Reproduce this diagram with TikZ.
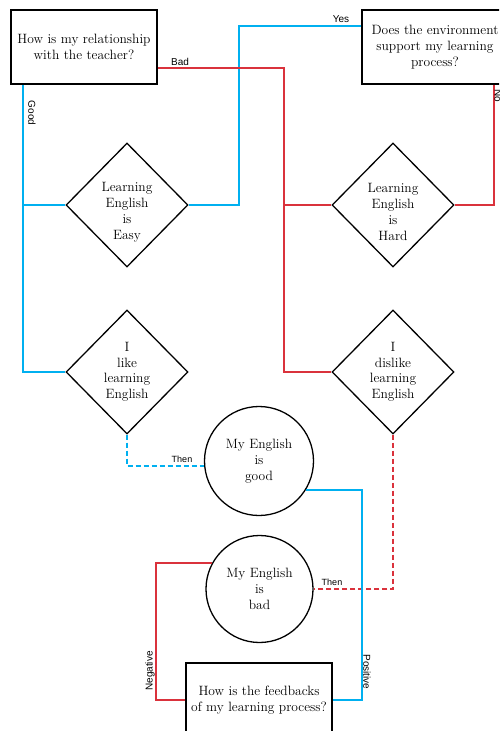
\documentclass[tikz,border=0pt]{standalone}
\usepackage{fontspec}
\newfontfamily\labelfont{Liberation Sans}
\usetikzlibrary{shapes.geometric}
\definecolor{posblue}{RGB}{0,176,240}
\definecolor{negred}{RGB}{218,50,60}
\tikzset{
  qbox/.style={draw, line width=1.6pt, minimum width=146pt, minimum height=74pt,
    inner sep=0pt, align=center, font=\fontsize{13.5}{16}\selectfont},
  stmt/.style={draw, line width=1.3pt, shape=diamond, minimum width=122pt, minimum height=124pt,
    inner sep=0pt, align=center, font=\fontsize{13.5}{15.5}\selectfont},
  stmtlabel/.style={align=center, font=\fontsize{13.5}{16}\selectfont, yshift=-7pt},
  result/.style={draw, line width=1.3pt, circle, inner sep=0pt, align=center,
    font=\fontsize{13.5}{16}\selectfont},
  good/.style={draw=posblue, line width=1.7pt},
  bad/.style={draw=negred, line width=1.7pt},
  tag/.style={font=\labelfont\fontsize{10}{12}\selectfont, inner sep=0pt},
  smalltag/.style={font=\labelfont\fontsize{9}{11}\selectfont, inner sep=0pt},
}
\begin{document}
\begin{tikzpicture}[x=1pt, y=-1pt]
\clip (0,0) rectangle (499,731);
\fill[white] (0,0) rectangle (499,731);

% questions
\node[qbox] (teacher) at (84,47) {How is my relationship\\with the teacher?};
\node[qbox] (env) at (435,47) {Does the environment\\support my learning\\process?};
\node[qbox] (feedback) at (259,700) {How is the feedbacks\\of my learning process?};

% statements
\node[stmt, label={[stmtlabel]center:Learning\\English\\is\\Easy}] (easy) at (127,205) {};
\node[stmt, label={[stmtlabel]center:Learning\\English\\is\\Hard}] (hard) at (393,205) {};
\node[stmt] (like) at (127,372) {I\\like\\learning\\English};
\node[stmt] (dislike) at (393,372) {I\\dislike\\learning\\English};

% outcomes
\node[result, minimum size=109pt] (goodeng) at (259,461) {My English\\is\\good};
\node[result, minimum size=107pt] (badeng) at (259.5,589) {My English\\is\\bad};

% good branch
\coordinate (gx) at ([xshift=13pt]teacher.south west);
\draw[good] (gx) |- (like.west);
\draw[good] (easy.west) -- (easy.west -| gx);
\coordinate (yes) at ([yshift=21pt]env.west);
\draw[good] (easy.east) -- ++(50,0) |- (yes);

% bad branch
\coordinate (bx) at ([yshift=-21pt]teacher.east);
\draw[bad] (bx) -- ++(126,0) coordinate (rt) |- (dislike.west);
\draw[bad] (hard.west) -- (hard.west -| rt);
\draw[bad] (hard.east) -| ([xshift=59pt]env.south);

% consequences
\draw[good, dash pattern=on 5pt off 3pt] (like.south) |- ([yshift=-5pt]goodeng.west);
\draw[bad, dash pattern=on 5pt off 3pt] (dislike.south) |- (badeng.east);

% feedback loop
\coordinate (pos) at ([xshift=29pt]feedback.east);
\draw[good] (goodeng.-32.5) -- (goodeng.-32.5 -| pos) -- (pos) -- (feedback.east);
\draw[bad] (feedback.west) -- ++(-29,0) |- (badeng.151);

% connector labels
\node[tag] (tbad) at (180,61.5) {Bad};
\node[tag] (tyes) at (341,19) {Yes};
\node[tag, rotate=-90] (tgood) at (32,113) {Good};
\node[tag, rotate=-90] (tno) at (498,96) {No};
\node[smalltag] (tthen1) at (182,459.5) {Then};
\node[smalltag] (tthen2) at (332,582) {Then};
\node[tag, rotate=90] (tneg) at (150,671) {Negative};
\node[tag, rotate=-90] (tpos) at (367,672) {Positive};
\end{tikzpicture}
\end{document}
